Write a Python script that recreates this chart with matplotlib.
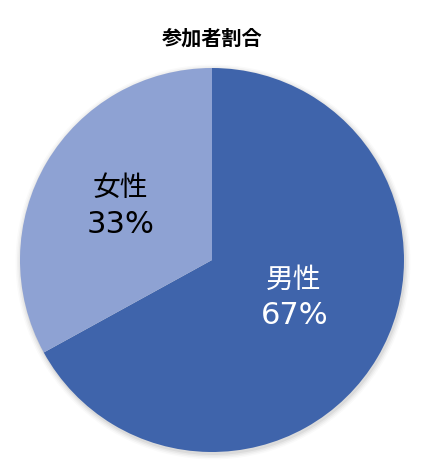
import matplotlib.pyplot as plt
from matplotlib.patches import Circle

plt.rcParams['font.family'] = ['Noto Sans CJK JP', 'DejaVu Sans']

labels = ["男性", "女性"]
values = [67, 33]
colors = ["#3F64AB", "#8EA2D3"]
text_colors = ["white", "black"]

fig = plt.figure(figsize=(4.25, 4.73), dpi=100)
# 图区域：饼图中心约 (212, 260)，半径约 192 px
ax = fig.add_axes([(212 - 200) / 425, 1 - (260 + 200) / 473, 400 / 425, 400 / 473])

# soft shadow around the pie
for i, a in enumerate([0.05, 0.04, 0.03, 0.02]):
    ax.add_patch(Circle((1, -2), 193 + i * 1.5, color="black", alpha=a, lw=0, zorder=0))

wedges, _ = ax.pie(values, colors=colors, startangle=90, counterclock=False,
                   radius=192, wedgeprops=dict(linewidth=0))
for w in wedges:
    w.set_zorder(2)

ax.set_xlim(-200, 200)
ax.set_ylim(-200, 200)
ax.set_aspect("equal")
ax.axis("off")

label_pos = [(82, -20), (-92, 72)]
for lab, v, tc, (x, y) in zip(labels, values, text_colors, label_pos):
    ax.text(x, y, lab, ha="center", va="center", fontsize=20, color=tc, zorder=3)
    ax.text(x + 1, y - 36, f"{v}%", ha="center", va="center", fontsize=22, color=tc,
            family="DejaVu Sans", zorder=3)

fig.text(212 / 425, 1 - 38 / 473, "参加者割合", ha="center", va="center",
         fontsize=14.5, fontweight="bold")

fig.savefig("out.png", dpi=100)
